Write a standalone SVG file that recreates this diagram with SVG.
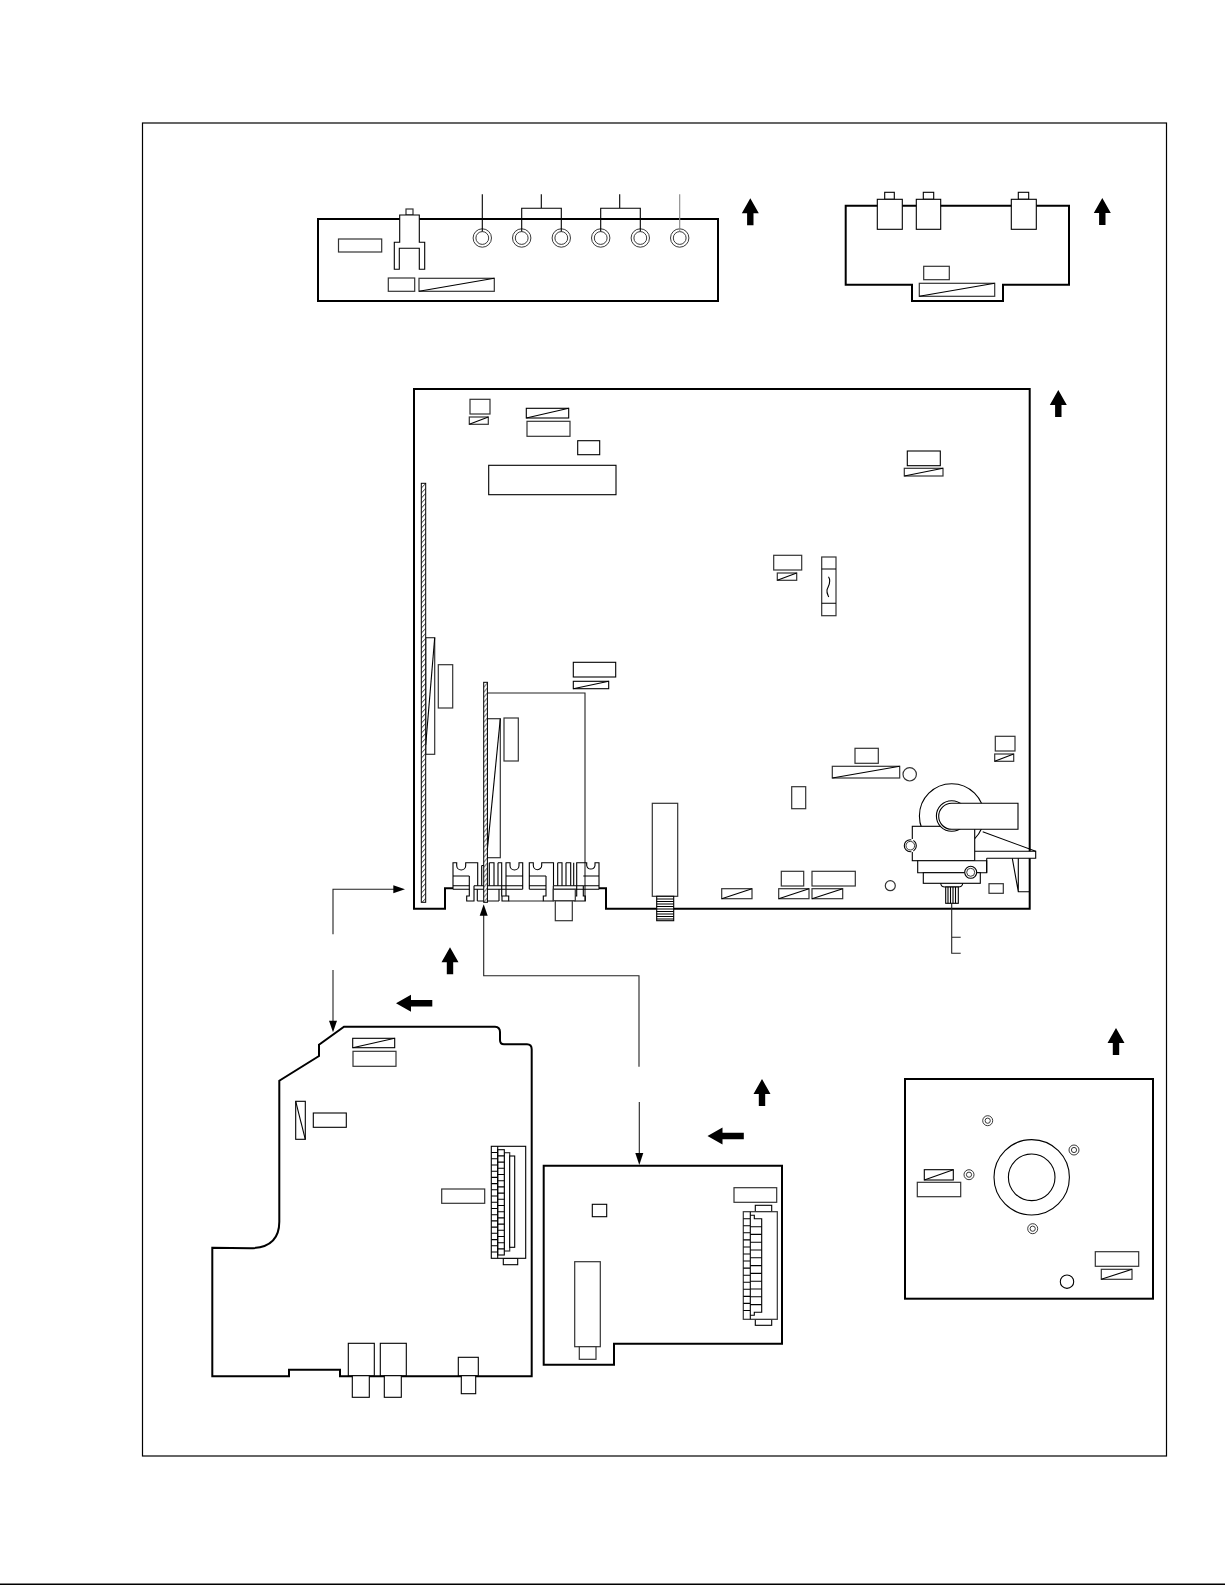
<svg xmlns="http://www.w3.org/2000/svg" width="1225" height="1585" viewBox="0 0 1225 1585">
<style>
.t{fill:none;stroke:#000;stroke-width:1.1}
.j{fill:none;stroke:#222;stroke-width:.9}
.w{fill:#fff;stroke:#000;stroke-width:1.1}
.g{fill:#fff;stroke:#333;stroke-width:1.2}
.b{fill:#fff;stroke:#000;stroke-width:2}
.l{fill:none;stroke:#222;stroke-width:1.1}
.a{fill:#000;stroke:none}
</style>
<defs>
<pattern id="hatch" width="4.4" height="5" patternUnits="userSpaceOnUse"><path d="M0 5L4.4 0" stroke="#000" stroke-width="0.8" fill="none"/></pattern>
<path id="up" d="M0 0L8.5 15H3.2V27H-3.2V15H-8.5Z"/>
<path id="left" d="M0 0L15 -8.5V-3.2H36.3V3.2H15V8.5Z"/>
<g id="dj"><circle r="5" class="j"/><circle r="2.6" class="j"/></g>
<g id="jack"><circle r="9.2" class="j"/><circle r="6.4" class="j"/></g>
</defs>
<rect width="1225" height="1585" fill="#fff"/>
<rect id="frame" x="142.5" y="123" width="1024" height="1333" fill="none" stroke="#000" stroke-width="1.2"/>
<path id="bottom-rule" d="M0 1584.3H1225" stroke="#000" stroke-width="1.4" fill="none"/>

<g id="board-top">
<rect x="318" y="219" width="400" height="82" class="b"/>
<rect x="338.5" y="239" width="43.2" height="13" class="g"/>
<rect x="406" y="209" width="7" height="6" class="g"/>
<path d="M399.7 215V242.3H394.3V269.3H399.3V248.3H419.3V269.3H424.7V242.3H419.3V215Z" class="w"/>
<rect x="388.3" y="278" width="26.4" height="13.3" class="g"/>
<rect x="419" y="278.3" width="75.3" height="13" class="g"/><path d="M419 291.3L494.3 278.3" class="t"/>
<use href="#jack" x="482.3" y="238"/><use href="#jack" x="521.7" y="238"/><use href="#jack" x="561.3" y="238"/><use href="#jack" x="600.7" y="238"/><use href="#jack" x="640.3" y="238"/><use href="#jack" x="679.7" y="238"/>
</g>

<g id="board-top-right">
<path d="M845.7 205.7H1069V284.7H1003V301H912V284.7H845.7Z" class="b"/>
<rect x="884.7" y="192.3" width="9.6" height="7" class="w"/><rect x="877.3" y="199.3" width="25" height="30" class="w"/>
<rect x="923.3" y="192.3" width="10.4" height="7" class="w"/><rect x="916.3" y="199.3" width="24.4" height="30" class="w"/>
<rect x="1018.3" y="192.3" width="10.4" height="7" class="w"/><rect x="1011.3" y="199.3" width="25" height="30" class="w"/>
<rect x="923.7" y="266.3" width="25.6" height="13.4" class="g"/>
<rect x="919.3" y="283.3" width="75.4" height="13" class="g"/><path d="M919.3 296.3L994.7 283.3" class="t"/>
</g>

<g id="board-main">
<path d="M453 888.3H445V908.7H414V389H1029.7V908.7H606V888.3H599" class="b"/>
<rect x="470" y="399.3" width="20" height="14.7" class="g"/>
<rect x="469.3" y="417" width="19" height="7.3" class="g"/><path d="M469.3 424.3L488.3 417" class="t"/>
<rect x="526.3" y="408.3" width="42.4" height="9.7" class="w"/><path d="M526.3 418L568.7 408.3" class="t"/>
<rect x="527" y="421.3" width="43" height="15" class="g"/>
<rect x="577.7" y="440.7" width="22" height="14" class="w"/>
<rect x="488.7" y="465.3" width="127.3" height="29.4" class="w"/>
<rect x="425.7" y="637.7" width="9" height="116.6" class="g"/><path d="M434.7 637.7L425.7 745" class="t"/>
<rect x="0" y="0" width="4.4" height="419" transform="translate(421.3 483.3)" fill="#fff"/><rect x="0" y="0" width="4.4" height="419" transform="translate(421.3 483.3)" fill="url(#hatch)" stroke="#000" stroke-width="1"/>
<rect x="438.3" y="664.7" width="14.4" height="43.3" class="g"/>
<rect x="573.3" y="662.3" width="42.4" height="14.7" class="w"/>
<rect x="573.3" y="681.3" width="35.4" height="7.4" class="w"/><path d="M573.3 688.7L608.7 681.3" class="t"/>
<path d="M487 693H585V901" class="l"/>
<rect x="487.3" y="718.7" width="13" height="139" class="g"/><path d="M500.3 718.7L487.3 850" class="t"/>
<rect x="504" y="718" width="14.3" height="43" class="g"/>
<rect x="652.3" y="803.3" width="25.4" height="93" class="g"/>
<rect x="656.7" y="896.3" width="17" height="24.4" class="w"/>
<path d="M656.7 899H673.7M656.7 901.5H673.7M656.7 904H673.7M656.7 906.5H673.7M656.7 909H673.7M656.7 911.5H673.7M656.7 914H673.7M656.7 916.5H673.7M656.7 919H673.7" class="t"/>
<rect x="791.7" y="786.7" width="14" height="22" class="g"/>
<rect x="781.3" y="871.3" width="22.4" height="14.7" class="g"/>
<rect x="812" y="871.3" width="43.3" height="14.7" class="g"/>
<rect x="721.7" y="888.7" width="30.3" height="10" class="g"/><path d="M721.7 898.7L752 888.7" class="t"/>
<rect x="778.7" y="888.7" width="30.3" height="10" class="g"/><path d="M778.7 898.7L809 888.7" class="t"/>
<rect x="812" y="888.7" width="30.7" height="10" class="g"/><path d="M812 898.7L842.7 888.7" class="t"/>
<rect x="907.3" y="451" width="33" height="14.7" class="w"/>
<rect x="904.3" y="468.3" width="38.7" height="7.7" class="g"/><path d="M904.3 476L943 468.3" class="t"/>
<rect x="773.7" y="555.3" width="28" height="14.7" class="g"/>
<rect x="777.3" y="573" width="19.4" height="7.3" class="g"/><path d="M777.3 580.3L796.7 573" class="t"/>
<rect x="821.7" y="557" width="14.3" height="58.7" class="g"/>
<path d="M821.7 569H836M821.7 603.3H836" class="t"/>
<path d="M828.5 576.7C832 582 828 586 827 590C826.5 593 828 595 828.7 597" class="t"/>
<rect x="855" y="748.3" width="23.3" height="15" class="g"/>
<rect x="832.3" y="766.3" width="67.4" height="11.7" class="g"/><path d="M832.3 778L899.7 766.3" class="t"/>
<circle cx="909.7" cy="774.3" r="6.7" class="g"/>
<rect x="995.3" y="736.3" width="19.7" height="14.7" class="g"/>
<rect x="994.7" y="754" width="19" height="7.3" class="g"/><path d="M994.7 761.3L1013.7 754" class="t"/>
<circle cx="890.3" cy="885.7" r="5" class="g"/>
<rect x="989" y="883.7" width="14.3" height="9.6" class="g"/>
</g>

<g id="connector-main">
<rect x="555.3" y="900.7" width="17" height="20" class="g"/>
<path d="M453 889.3V862.7H456.7V865.5A4.5 4.5 0 0 0 465.7 865.5V862.7H477.7V885.7M453 876H469.3M453 885.7H469.3M453 889.3H469.3" class="t"/>
<path d="M522.7 889.3V862.7H519V865.5A4.5 4.5 0 0 1 510 865.5V862.7H506V889.3M506 876H522.7M506 885.7H522.7M506 889.3H522.7" class="t"/>
<path d="M529.3 889.3V862.7H533.3V865.5A4.2 4.2 0 0 0 541.7 865.5V862.7H553.5V885.7M529.3 876H546M529.3 885.7H546M529.3 889.3H546" class="t"/>
<path d="M599 889.3V862.7H595V865.5A4.2 4.2 0 0 1 586.7 865.5V862.7H576.7V885.7M583.3 876H599M583.3 885.7H599M583.3 889.3H599" class="t"/>
<path d="M469.3 876V896H466.7V901H474V885.7" class="t"/>
<path d="M501.7 885.7V896H508.7V901H502V896M506 889.3V896" class="t"/>
<path d="M546 876V896H543.3V901H553.3V885.7" class="t"/>
<path d="M576.7 885.7V896H574V901H585.3V896H583.3V885.7" class="t"/>
<path d="M481.7 865.5V885.7M481.7 865.5H485.7V885.7M489.3 862.7V885.7M489.3 862.7H494V885.7M498 862.7V885.7M498 862.7H501.7V885.7M557.7 862.7V885.7M557.7 862.7H562V885.7M566 862.7V885.7M566 862.7H570.7V885.7M573.7 862.7V885.7" class="t"/>
<path d="M474 885.7H506M474 889.3H506M553.5 885.7H583.3M553.5 889.3H583.3" class="t"/>
<rect x="553.3" y="889.3" width="22" height="11.4" class="g"/>
<path d="M477.3 901H499" class="l"/><path d="M508.7 901H543.3" class="l"/><path d="M477.3 889.3V901M499 889.3V901" class="t"/>
<rect x="0" y="0" width="3.7" height="220" transform="translate(483.7 682.3)" fill="#fff"/><rect x="0" y="0" width="3.7" height="220" transform="translate(483.7 682.3)" fill="url(#hatch)" stroke="#000" stroke-width="1"/>
</g>

<g id="selector">
<circle cx="951.7" cy="816" r="32.3" class="w"/>
<path d="M974.7 851.3H1035.7V858.3H986.7" class="w"/>
<path d="M982.7 831.7L1035.7 851.3" class="t"/>
<path d="M1012.3 858.3L1018.3 891.7H1030M1018.3 858.3V891.7" class="t"/>
<rect x="912.3" y="826.3" width="62.4" height="34.4" class="w"/>
<circle cx="910.3" cy="845.7" r="6" class="w"/><path d="M912.3 839V852" stroke="#fff" stroke-width="2"/>
<circle cx="910.3" cy="845.7" r="4.3" class="j"/>
<path d="M917.7 860.7H986.7V872.7H917.7Z" class="w"/>
<path d="M986.7 858.3V872.7" class="t"/>
<rect x="923.3" y="872.7" width="57" height="10.6" class="w"/>
<circle cx="970.7" cy="872.3" r="6" class="w"/><circle cx="970.7" cy="872.3" r="4" class="j"/>
<circle cx="951.7" cy="816" r="15.3" class="w"/>
<path d="M1018 803.3V829.3H951.7A13 13 0 0 1 951.7 803.3Z" class="w"/>
<path d="M940.7 883.3Q941 887 945 887H958Q962.5 887 962.7 883.3" class="t"/>
<rect x="945.7" y="887" width="12.6" height="16.3" class="w"/>
<path d="M948 887V903.3M950.5 887V903.3M953 887V903.3M955.5 887V903.3" class="t"/>
<path d="M951.7 903.3V953.3H960.7M951.7 937.3H960.7" class="l"/>
</g>

<g id="board-lower-left">
<path d="M212.3 1247.7L250 1248.3C268 1248 279.3 1240 279.3 1221.7V1080.7L319 1056V1044.7L344 1026.7H495Q500 1027 500 1032V1040Q500 1044.3 504 1044.3H527Q531.7 1044.3 531.7 1049.3V1376.3H340V1369.7H289V1376.3H212.3Z" class="b"/>
<rect x="352.7" y="1038.3" width="42" height="9.4" class="w"/><path d="M352.7 1047.7L394.7 1038.3" class="t"/>
<rect x="353" y="1051.3" width="43" height="15" class="g"/>
<rect x="295.7" y="1101.3" width="9.6" height="38" class="w"/><path d="M295.7 1101.3L305.3 1139.3" class="t"/>
<rect x="313.3" y="1113" width="33" height="14.3" class="w"/>
<rect x="441.7" y="1189" width="43" height="14.3" class="g"/>
<rect x="503.3" y="1258.3" width="14.4" height="6.4" class="w"/>
<rect x="491.3" y="1146.3" width="34.4" height="112" class="w"/>
<rect x="504.3" y="1152.7" width="5.4" height="98.3" class="g"/>
<rect x="509.7" y="1156" width="5" height="91.3" class="w"/>
<rect x="497.7" y="1149.7" width="6.6" height="105.3" class="w"/>
<path d="M497.7 1146.3V1258.3" class="t"/>
<path d="M491.3 1152.5H497.7M491.3 1158.7H497.7M491.3 1165H497.7M491.3 1171.2H497.7M491.3 1177.4H497.7M491.3 1183.6H497.7M491.3 1189.8H497.7M491.3 1196H497.7M491.3 1202.3H497.7M491.3 1208.5H497.7M491.3 1214.7H497.7M491.3 1220.9H497.7M491.3 1227.1H497.7M491.3 1233.3H497.7M491.3 1239.6H497.7M491.3 1245.8H497.7M491.3 1252H497.7" class="t"/>
<path d="M497.7 1155.9H504.3M497.7 1162.1H504.3M497.7 1168.3H504.3M497.7 1174.5H504.3M497.7 1180.7H504.3M497.7 1186.9H504.3M497.7 1193.1H504.3M497.7 1199.3H504.3M497.7 1205.5H504.3M497.7 1211.7H504.3M497.7 1217.9H504.3M497.7 1224.1H504.3M497.7 1230.3H504.3M497.7 1236.5H504.3M497.7 1242.7H504.3M497.7 1248.9H504.3" class="t"/>
<rect x="348.3" y="1343.3" width="26" height="32.4" class="w"/><rect x="352.3" y="1375.7" width="17" height="21.6" class="w"/>
<rect x="380.3" y="1343.3" width="26" height="32.4" class="w"/><rect x="384.3" y="1375.7" width="17" height="21.6" class="w"/>
<rect x="458.3" y="1357.3" width="20" height="18.4" class="w"/><rect x="461.3" y="1375.7" width="14.4" height="18" class="w"/>
</g>

<g id="board-lower-middle">
<path d="M543.7 1165.7H782V1343.7H614V1364.7H543.7Z" class="b"/>
<rect x="734" y="1187.7" width="42.7" height="14.6" class="g"/>
<rect x="592.3" y="1204.3" width="14.4" height="12.4" class="w"/>
<rect x="574.7" y="1261.7" width="25.6" height="85" class="g"/>
<rect x="579.3" y="1346.7" width="16.7" height="12.6" class="g"/>
<rect x="755.3" y="1205.3" width="16.4" height="6.4" class="w"/>
<rect x="755.3" y="1319.3" width="16.4" height="6" class="w"/>
<rect x="743.3" y="1211.7" width="34" height="107.6" class="g"/>
<path d="M750.3 1211.7V1319.3M743.3 1218.7H750.3M743.3 1225.7H750.3M743.3 1232.8H750.3M743.3 1239.9H750.3M743.3 1247H750.3M743.3 1254H750.3M743.3 1261H750.3M743.3 1268.1H750.3M743.3 1275.2H750.3M743.3 1282.3H750.3M743.3 1289.3H750.3M743.3 1296.4H750.3M743.3 1303.4H750.3M743.3 1310.5H750.3" class="t"/>
<path d="M750.3 1215.3H754.3V1218.7H761.7V1312.3H754.3V1315.3H750.3" class="t"/>
<path d="M750.3 1226.7H761.7M750.3 1234.4H761.7M750.3 1242.2H761.7M750.3 1250H761.7M750.3 1257.8H761.7M750.3 1265.6H761.7M750.3 1273.4H761.7M750.3 1281.2H761.7M750.3 1289H761.7M750.3 1296.8H761.7M750.3 1304.6H761.7" class="t"/>
</g>

<g id="board-lower-right">
<rect x="905" y="1079" width="248" height="219.7" class="b"/>
<circle cx="1031.7" cy="1177.3" r="37.7" class="t"/><circle cx="1031.7" cy="1177.3" r="23.3" class="t"/>
<use href="#dj" x="987.7" y="1120.7"/><use href="#dj" x="1074" y="1150"/><use href="#dj" x="969" y="1174.7"/><use href="#dj" x="1032.7" y="1228.7"/>
<rect x="924.3" y="1169.7" width="29" height="10.3" class="w"/><path d="M924.3 1180L953.3 1169.7" class="t"/>
<rect x="917.3" y="1182.3" width="43.4" height="14.4" class="g"/>
<rect x="1095.3" y="1251.7" width="43.4" height="14.6" class="g"/>
<rect x="1101.3" y="1269.3" width="30.7" height="10" class="g"/><path d="M1101.3 1279.3L1132 1269.3" class="t"/>
<circle cx="1067" cy="1281.7" r="6.7" class="t"/>
</g>

<g id="connectors">
<path d="M482.3 194.3V231.5M541.3 194.3V208.3M521.7 231.5V208.3H561.3V231.5M619.7 194.3V208.3M600.7 231.5V208.3H640.3V231.5" class="t"/>
<path d="M679.7 194.3V231.5" fill="none" stroke="#888" stroke-width="1.1"/>
<path d="M333 934.3V889.3H394" class="l"/><path d="M405 889.3L393.3 885.3V893.3Z" class="a"/>
<path d="M333 970V1021" class="l"/><path d="M333 1032.3L329 1020.7H337Z" class="a"/>
<path d="M639 1066.7V975.7H483.7V915" class="l"/><path d="M483.7 904.3L479.7 915.7H487.7Z" class="a"/>
<path d="M639.3 1102V1154" class="l"/><path d="M639.3 1165L635.3 1153H643.3Z" class="a"/>
</g>

<g id="orientation-arrows">
<use href="#up" x="750.3" y="198.3" class="a"/>
<use href="#up" x="1102.3" y="198" class="a"/>
<use href="#up" x="1058.3" y="390" class="a"/>
<use href="#up" x="450" y="947.3" class="a"/>
<use href="#up" x="762" y="1079" class="a"/>
<use href="#up" x="1116" y="1028" class="a"/>
<use href="#left" x="396" y="1003.3" class="a"/>
<use href="#left" x="707.5" y="1136" class="a"/>
</g>
</svg>
